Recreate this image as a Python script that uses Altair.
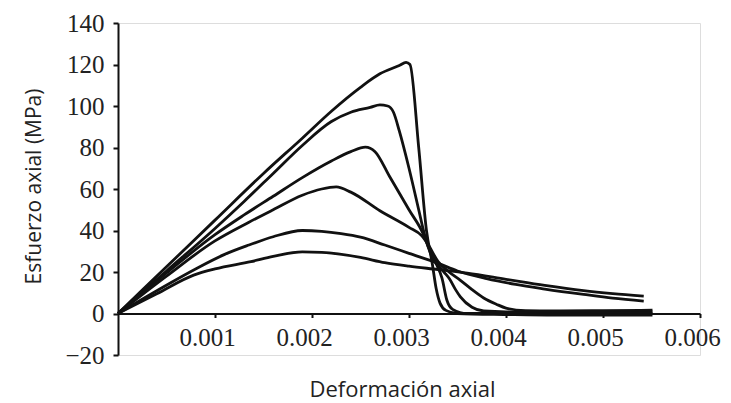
import altair as alt
import pandas as pd

# Axial strain (x) and axial stress in MPa (y), one pair of lists per curve
strain_A = [0, 0.0005, 0.001, 0.0015, 0.0019, 0.0022, 0.0025, 0.0027, 0.0029, 0.00297, 0.00301, 0.0031, 0.00318, 0.00324, 0.00328, 0.00332, 0.00338, 0.0035, 0.0040, 0.0045, 0.0050, 0.00551]
stress_A = [0, 22.5, 45, 67.5, 84.5, 97.5, 109, 115.5, 119.5, 121, 120, 80, 40, 24, 12, 5, 1.5, 0, -0.5, -0.8, -0.8, -0.8]

strain_B = [0, 0.0005, 0.001, 0.0013, 0.0016, 0.0019, 0.0022, 0.0024, 0.0026, 0.0027, 0.00278, 0.00284, 0.0029, 0.003, 0.0031, 0.00316, 0.00324, 0.00329, 0.00334, 0.00339, 0.00345, 0.0036, 0.0045, 0.00551]
stress_B = [0, 20.5, 41, 54, 67.5, 81, 92.5, 97, 99.3, 100.5, 100, 97, 88, 70, 50, 38, 27, 23, 17, 6.5, 2, 0, 0, 0]

strain_C = [0, 0.0005, 0.001, 0.0013, 0.0016, 0.0019, 0.0022, 0.0024, 0.00255, 0.00265, 0.0028, 0.003, 0.00315, 0.0032, 0.00329, 0.00336, 0.00342, 0.00348, 0.00353, 0.00365, 0.00377, 0.004, 0.0047, 0.00551]
stress_C = [0, 19.5, 38, 47.5, 56.5, 65.5, 73.5, 78, 80.2, 78, 66, 50, 38, 32, 24, 20, 16.5, 11.5, 8, 3, 1.2, 0.8, 0.8, 0.8]

strain_D = [0, 0.0005, 0.001, 0.00135, 0.0016, 0.0019, 0.0021, 0.00225, 0.0024, 0.0027, 0.003, 0.00313, 0.0032, 0.0033, 0.0034, 0.00353, 0.00365, 0.00377, 0.0039, 0.004, 0.0042, 0.0045, 0.005, 0.00551]
stress_D = [0, 18, 35, 44, 50, 57, 60, 61, 58.5, 49.5, 41.5, 37.5, 33, 25, 20.5, 16, 11.5, 7.5, 4.5, 2.6, 1.4, 1.2, 1.4, 1.6]

strain_E = [0, 0.0004, 0.0008, 0.0011, 0.00135, 0.0016, 0.0019, 0.0021, 0.0023, 0.0025, 0.00275, 0.003, 0.0033, 0.0035, 0.0038, 0.0041, 0.0044, 0.0048, 0.0051, 0.00542]
stress_E = [0, 11, 21.5, 28.5, 33, 37, 40, 39.6, 38.5, 36.8, 33, 29, 24.2, 20.5, 16.8, 14, 11.8, 9.2, 7.4, 6]

strain_F = [0, 0.0004, 0.00078, 0.001, 0.00137, 0.0016, 0.0019, 0.0021, 0.0025, 0.00275, 0.003, 0.0033, 0.0036, 0.004, 0.0044, 0.0048, 0.0051, 0.00542]
stress_F = [0, 9.5, 18.5, 21.5, 25, 27.5, 29.7, 29.5, 27, 24.5, 22.8, 21.2, 19.5, 16.5, 13.5, 11, 9.6, 8.4]

x_ticks = [0.001, 0.002, 0.003, 0.004, 0.005, 0.006]
y_ticks = [-20, 0, 20, 40, 60, 80, 100, 120, 140]

curves = {
    "A": (strain_A, stress_A),
    "B": (strain_B, stress_B),
    "C": (strain_C, stress_C),
    "D": (strain_D, stress_D),
    "E": (strain_E, stress_E),
    "F": (strain_F, stress_F),
}

rows = []
for name, (xs, ys) in curves.items():
    for i, (xv, yv) in enumerate(zip(xs, ys)):
        rows.append({"curve": name, "i": i, "strain": xv, "stress": yv})
df = pd.DataFrame(rows)

W, H = 582, 332

chart = alt.Chart(df).mark_line(
    interpolate="monotone", color="#111111", strokeWidth=2.8
).encode(
    x=alt.X(
        "strain:Q",
        scale=alt.Scale(domain=[0, 0.006], nice=False, zero=False),
        axis=alt.Axis(
            values=x_ticks,
            format=".3f",
            orient="bottom",
            offset=-41.5,
            grid=False,
            domainColor="#111111",
            domainWidth=1.8,
            tickColor="#111111",
            tickWidth=2,
            tickSize=4,
            labelFont="Liberation Serif",
            labelFontSize=25,
            labelColor="#222222",
            labelPadding=8,
            labelOffset=-8,
            labelFlush=False,
            labelOverlap=False,
            title="Deformación axial",
            titleFont="Open Sans",
            titleFontSize=22,
            titleFontWeight="normal",
            titleColor="#222222",
            titleX=284,
            titleY=83,
            titleAlign="center",
            titleBaseline="alphabetic",
        ),
    ),
    y=alt.Y(
        "stress:Q",
        scale=alt.Scale(domain=[-20, 140], nice=False, zero=False),
        axis=alt.Axis(
            values=y_ticks,
            format="d",
            grid=False,
            domainColor="#111111",
            domainWidth=2,
            tickColor="#111111",
            tickWidth=2,
            tickSize=5,
            labelFont="Liberation Serif",
            labelFontSize=25,
            labelColor="#222222",
            labelPadding=9,
            labelOverlap=False,
            labelFlush=False,
            title="Esfuerzo axial (MPa)",
            titleFont="Open Sans",
            titleFontSize=21,
            titleFontWeight="normal",
            titleColor="#222222",
            titleAngle=270,
            titleX=-78,
            titleY=163,
            titleAlign="center",
            titleBaseline="alphabetic",
        ),
    ),
    detail="curve:N",
    order="i:Q",
).properties(
    width=W,
    height=H,
    autosize=alt.AutoSizeParams(type="none"),
    padding={"left": 110, "top": 15, "right": 23, "bottom": 50},
).configure_view(stroke=None).configure(background="white")

chart.save("out.html", embed_options={"renderer": "svg", "actions": False})
